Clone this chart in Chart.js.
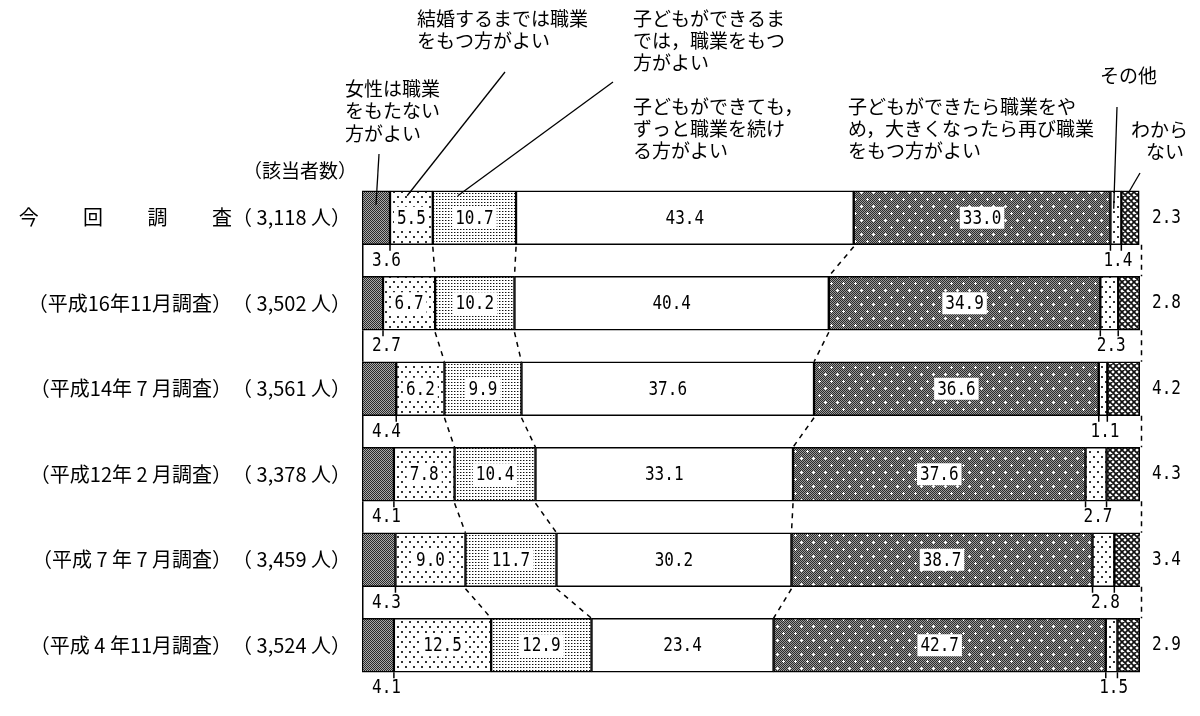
<!DOCTYPE html>
<html><head><meta charset="utf-8">
<script src="https://cdn.jsdelivr.net/npm/chart.js@4.4.1/dist/chart.umd.min.js"></script>
<style>html,body{margin:0;padding:0;background:#fff;}#wrap{width:1200px;height:716px;}</style>
</head><body><div id="wrap"><canvas id="c" width="1200" height="716"></canvas></div>
<script>
// ---- data ----
const categories = [
  '今　　 回　　 調　　 査（ 3,118 人）',
  '（平成16年11月調査）　（ 3,502 人）',
  '（平成14年 7 月調査）　（ 3,561 人）',
  '（平成12年 2 月調査）　（ 3,378 人）',
  '（平成 7 年 7 月調査）　（ 3,459 人）',
  '（平成 4 年11月調査）　（ 3,524 人）'
];
const seriesNames = [
  '女性は職業をもたない方がよい',
  '結婚するまでは職業をもつ方がよい',
  '子どもができるまでは，職業をもつ方がよい',
  '子どもができても，ずっと職業を続ける方がよい',
  '子どもができたら職業をやめ，大きくなったら再び職業をもつ方がよい',
  'その他',
  'わからない'
];
const noJob      = [3.6, 2.7, 4.4, 4.1, 4.3, 4.1];
const untilMarry = [5.5, 6.7, 6.2, 7.8, 9.0, 12.5];
const untilChild = [10.7, 10.2, 9.9, 10.4, 11.7, 12.9];
const continueJob= [43.4, 40.4, 37.6, 33.1, 30.2, 23.4];
const returnJob  = [33.0, 34.9, 36.6, 37.6, 38.7, 42.7];
const other      = [1.4, 2.3, 1.1, 2.7, 2.8, 1.5];
const dontKnow   = [2.3, 2.8, 4.2, 4.3, 3.4, 2.9];
const series = [noJob, untilMarry, untilChild, continueJob, returnJob, other, dontKnow];

// ---- patterns ----
function makePattern(w, h, draw) {
  const c = document.createElement('canvas'); c.width = w; c.height = h;
  const g = c.getContext('2d'); draw(g); return g.createPattern(c, 'repeat');
}
const pDark = makePattern(2, 2, g => { g.fillStyle = '#aaa'; g.fillRect(0,0,2,2); g.fillStyle = '#2a2a2a'; g.fillRect(0,0,1,1); g.fillRect(1,1,1,1); });
const pSparse = makePattern(8, 10, g => { g.fillStyle = '#fff'; g.fillRect(0,0,8,10); g.fillStyle = '#333'; g.fillRect(1,1,2,2); g.fillRect(5,6,2,2); });
const pDense = makePattern(3, 3, g => { g.fillStyle = '#fff'; g.fillRect(0,0,3,3); g.fillStyle = '#111'; g.fillRect(1,1,1,1); g.fillStyle = '#999'; g.fillRect(2,1,1,1); });
const pDarkDots = makePattern(12, 14, g => {
  for (let y = 0; y < 14; y++) for (let x = 0; x < 12; x++) { g.fillStyle = ((x + y) % 2 === 0) ? '#2a2a2a' : '#999'; g.fillRect(x, y, 1, 1); }
  g.fillStyle = '#fff';
  [[3,3],[9,10]].forEach(([x,y]) => { g.fillRect(x-1,y,3,1); g.fillRect(x,y-1,1,3); });
});
const pCross = makePattern(6, 6, g => {
  g.fillStyle = '#fff'; g.fillRect(0,0,6,6);
  g.strokeStyle = '#111'; g.lineWidth = 1.7; g.beginPath();
  [-6,0,6].forEach(o => { g.moveTo(o-1,-1); g.lineTo(o+7,7); });
  [0,6,12].forEach(o => { g.moveTo(o+1,-1); g.lineTo(o-7,7); });
  g.stroke();
});
const fills = [pDark, pSparse, pDense, '#ffffff', pDarkDots, pSparse, pCross];

// tall narrow numeric text like the reference
function numText(ctx, txt, x, y) {
  ctx.save();
  ctx.translate(x, y);
  ctx.scale(1, 1.25);
  ctx.fillText(txt, 0, 0);
  ctx.restore();
}

// ---- overlay plugin ----
const overlay = {
  id: 'overlay',
  afterDatasetsDraw(chart) {
    const ctx = chart.ctx, xs = chart.scales.x, ca = chart.chartArea;
    const n = categories.length;
    const rows = [];
    for (let i = 0; i < n; i++) {
      const b = chart.getDatasetMeta(0).data[i].getProps(['y','height'], true);
      const cum = []; let s = 0;
      series.forEach(arr => { s += arr[i]; cum.push(s); });
      rows.push({ yc: b.y, top: b.y - b.height/2, bottom: b.y + b.height/2, cum });
    }
    ctx.save();
    ctx.strokeStyle = '#000';
    // gap boxes
    for (let i = 0; i < n - 1; i++) {
      const r = rows[i], r2 = rows[i+1];
      ctx.setLineDash([]); ctx.lineWidth = 1.5;
      ctx.beginPath(); ctx.moveTo(ca.left + 0.75, r.bottom); ctx.lineTo(ca.left + 0.75, r2.top); ctx.stroke();
      ctx.setLineDash([5, 5]);
      const xr = xs.getPixelForValue(100) + 1.5;
      ctx.beginPath(); ctx.moveTo(xr, r.bottom); ctx.lineTo(xr, r2.top); ctx.stroke();
      [1,2,3].forEach(k => {
        ctx.beginPath();
        ctx.moveTo(xs.getPixelForValue(r.cum[k]), r.bottom + 2);
        ctx.lineTo(xs.getPixelForValue(r2.cum[k]), r2.top);
        ctx.stroke();
      });
    }
    ctx.setLineDash([]); ctx.lineWidth = 1.5;
    rows.forEach(r => {
      [0,4,5].forEach(k => {
        const x = xs.getPixelForValue(r.cum[k]);
        ctx.beginPath(); ctx.moveTo(x, r.bottom); ctx.lineTo(x, r.bottom + 6); ctx.stroke();
      });
    });
    // value labels
    ctx.font = '16px "DejaVu Sans Mono"';
    ctx.textBaseline = 'middle';
    rows.forEach((r, i) => {
      series.forEach((arr, k) => {
        const txt = arr[i].toFixed(1);
        const x0 = xs.getPixelForValue(k === 0 ? 0 : r.cum[k-1]);
        const x1 = xs.getPixelForValue(r.cum[k]);
        ctx.fillStyle = '#000';
        if (k === 0) {
          ctx.textAlign = 'left'; numText(ctx, txt, ca.left + 10, r.bottom + 16);
        } else if (k === 5) {
          ctx.textAlign = 'center'; numText(ctx, txt, (x0 + x1) / 2 + 2, r.bottom + 16);
        } else if (k === 6) {
          ctx.textAlign = 'left'; numText(ctx, txt, ca.right + 12, r.yc);
        } else {
          const w = ctx.measureText(txt).width;
          const cx = (x0 + x1) / 2;
          ctx.fillStyle = '#fff';
          ctx.fillRect(cx - w/2 - 3, r.yc - 11, w + 6, 22);
          ctx.fillStyle = '#000'; ctx.textAlign = 'center';
          numText(ctx, txt, cx, r.yc + 1);
        }
      });
    });
    // annotations
    ctx.font = '19px "Noto Sans CJK JP"';
    ctx.textAlign = 'left'; ctx.textBaseline = 'middle'; ctx.fillStyle = '#000';
    const texts = [
      [417, 19, '結婚するまでは職業'], [417, 41, 'をもつ方がよい'],
      [633, 19, '子どもができるま'], [633, 41, 'では，職業をもつ'], [633, 63, '方がよい'],
      [345, 89, '女性は職業'], [345, 111, 'をもたない'], [345, 134, '方がよい'],
      [633, 107, '子どもができても，'], [633, 129, 'ずっと職業を続け'], [633, 151, 'る方がよい'],
      [848, 107, '子どもができたら職業をや'], [848, 129, 'め，大きくなったら再び職業'], [848, 151, 'をもつ方がよい'],
      [1100, 76, 'その他'], [1131, 130, 'わから'], [1146, 152, 'ない'],
      [243, 171, '（該当者数）']
    ];
    texts.forEach(([x, y, t]) => ctx.fillText(t, x, y));
    // leader lines
    ctx.lineWidth = 1.3;
    const r0 = rows[0];
    const lines = [
      [379, 154, xs.getPixelForValue(r0.cum[0] / 2), r0.top + 14],
      [505, 72, xs.getPixelForValue(r0.cum[0] + series[1][0] * 0.4), r0.top + 5],
      [613, 82, xs.getPixelForValue(r0.cum[1] + series[2][0] * 0.3), r0.top + 5],
      [1117, 107, xs.getPixelForValue(r0.cum[4] + series[5][0] * 0.3), r0.top + 18],
      [1140, 173, xs.getPixelForValue(r0.cum[5] + series[6][0] * 0.4), r0.top + 2]
    ];
    lines.forEach(([a, b, c, d]) => { ctx.beginPath(); ctx.moveTo(a, b); ctx.lineTo(c, d); ctx.stroke(); });
    ctx.restore();
  }
};

new Chart(document.getElementById('c'), {
  type: 'bar',
  data: {
    labels: categories,
    datasets: series.map((arr, k) => ({
      label: seriesNames[k],
      data: arr,
      backgroundColor: fills[k],
      borderColor: '#000',
      borderWidth: 1.5,
      borderSkipped: false,
      barThickness: 54
    }))
  },
  options: {
    indexAxis: 'y',
    responsive: false,
    animation: false,
    layout: { padding: { left: 0, right: 60, top: 175, bottom: 28 } },
    plugins: { legend: { display: false }, tooltip: { enabled: false } },
    scales: {
      x: { stacked: true, min: 0, max: 100, display: false },
      y: {
        stacked: true,
        grid: { display: false, drawTicks: false },
        border: { display: false },
        ticks: { color: '#000', padding: 11, font: { family: '"Noto Sans CJK JP"', size: 20 } },
        afterFit(s) { s.width = 362; }
      }
    }
  },
  plugins: [overlay]
});
</script>
</body></html>
